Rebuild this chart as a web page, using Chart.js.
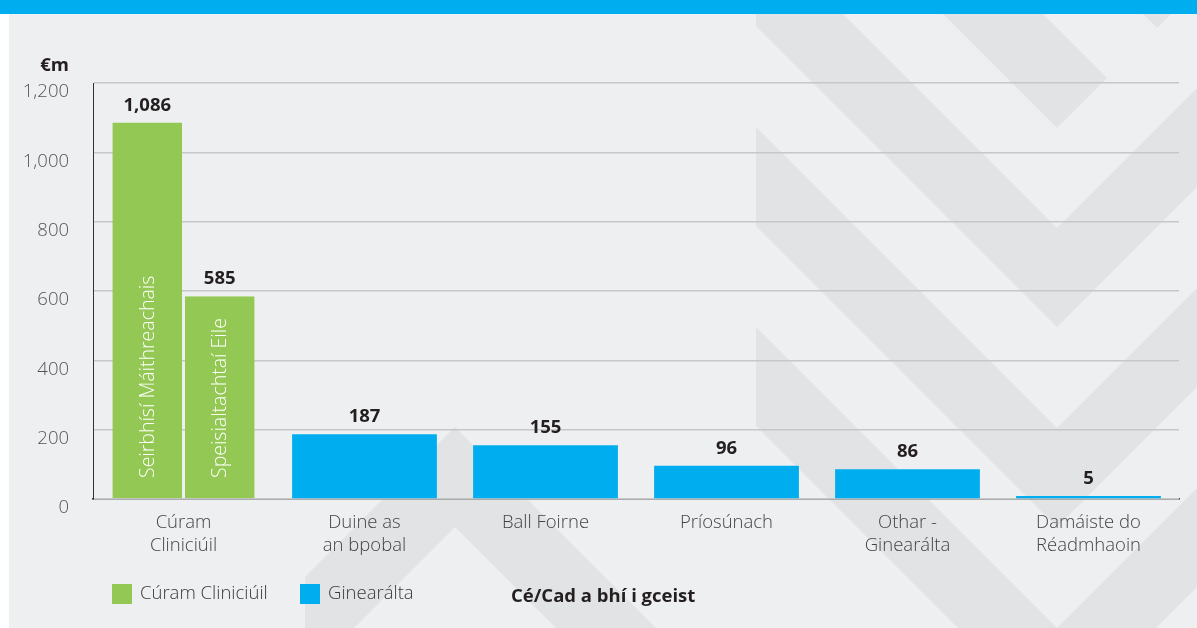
<!DOCTYPE html>
<html>
<head>
<meta charset="utf-8">
<script src="https://cdn.jsdelivr.net/npm/chart.js@4"></script>
<style>
  html, body { margin: 0; padding: 0; background: #ffffff; }
  #wrap { position: relative; width: 1197px; height: 628px; }
</style>
</head>
<body>
<div id="wrap"><canvas id="chart" width="1197" height="628"></canvas></div>
<script>
// categories (multi-line labels)
const categories = [
  ["Cúram", "Cliniciúil"],
  ["Duine as", "an bpobal"],
  ["Ball Foirne"],
  ["Príosúnach"],
  ["Othar -", "Ginearálta"],
  ["Damáiste do", "Réadmhaoin"]
];
// series values (€m)
const maternityValues = [1086, null, null, null, null, null];
const otherSpecialtyValues = [585, null, null, null, null, null];
const generalValues = [null, 187, 155, 96, 86, 5];
const innerLabels = ["Seirbhísí Máithreachais", "Speisialtachtaí Eile"];
const legendLabels = ["Cúram Cliniciúil", "Ginearálta"];
const yTicks = [0, 200, 400, 600, 800, 1000, 1200];
const axisTitle = "Cé/Cad a bhí i gceist";
const unitLabel = "€m";

const GREEN = "#92c853";
const BLUE = "#00aeef";
const FONT = "'Open Sans', sans-serif";
const SIZE = 18.5;

Chart.defaults.font.family = FONT;

// background panel + chevrons
const backgroundPlugin = {
  id: "background",
  beforeDraw(chart) {
    const ctx = chart.ctx;
    ctx.save();
    ctx.fillStyle = "#ffffff";
    ctx.fillRect(0, 0, 1197, 628);
    ctx.fillStyle = "#eeeff1";
    ctx.fillRect(9, 14, 1188, 614);

    ctx.beginPath();
    ctx.rect(9, 14, 1188, 614);
    ctx.clip();
    ctx.fillStyle = "#e2e3e5";

    const poly = (pts) => {
      ctx.beginPath();
      ctx.moveTo(pts[0][0], pts[0][1]);
      for (let i = 1; i < pts.length; i++) ctx.lineTo(pts[i][0], pts[i][1]);
      ctx.closePath();
      ctx.fill();
    };

    // right side chevrons (clipped at x = 756)
    ctx.save();
    ctx.beginPath();
    ctx.rect(756, 14, 441, 614);
    ctx.clip();
    [228, 428, 628].forEach((yi) => {
      const yo = yi + 99;
      poly([[756, yi - 301], [1057, yi], [1197, yi - 140], [1197, yo - 140], [1057, yo], [756, yo - 301]]);
    });
    poly([[943, 14], [1043, 14], [1107, 78], [1057, 128]]);
    poly([[1143, 14], [1171, 14], [1157, 28]]);
    ctx.restore();

    // middle lower chevron
    ctx.save();
    ctx.beginPath();
    ctx.rect(305, 14, 892, 614);
    ctx.clip();
    poly([[305, 577], [455, 427], [656, 628], [556, 628], [455, 527], [305, 677]]);
    ctx.restore();

    ctx.restore();
    ctx.fillStyle = BLUE;
    ctx.fillRect(0, 0, 1197, 14);
  }
};

// value labels, inner rotated labels, legend and axis title
const labelsPlugin = {
  id: "labels",
  afterDatasetsDraw(chart) {
    const ctx = chart.ctx;
    const area = chart.chartArea;
    ctx.save();
    chart.data.datasets.forEach((ds, di) => {
      const meta = chart.getDatasetMeta(di);
      meta.data.forEach((bar, i) => {
        const v = ds.data[i];
        if (v === null || v === undefined) return;
        ctx.fillStyle = "#231f20";
        ctx.font = "bold " + SIZE + "px " + FONT;
        ctx.textAlign = "center";
        ctx.textBaseline = "bottom";
        ctx.fillText(v.toLocaleString("en-US"), bar.x, bar.y - 8);
        if (ds.innerLabel) {
          ctx.save();
          ctx.translate(bar.x, area.bottom - 21);
          ctx.rotate(-Math.PI / 2);
          ctx.fillStyle = "#ffffff";
          ctx.font = "300 19.5px " + FONT;
          ctx.textAlign = "left";
          ctx.textBaseline = "middle";
          ctx.fillText(ds.innerLabel, 0, 1);
          ctx.restore();
        }
      });
    });

    // unit label
    ctx.fillStyle = "#231f20";
    ctx.font = "bold " + SIZE + "px " + FONT;
    ctx.textAlign = "right";
    ctx.textBaseline = "middle";
    ctx.fillText(unitLabel, 69, 66);

    // legend
    const legendColors = [GREEN, BLUE];
    const legendX = [112, 300];
    legendLabels.forEach((lbl, i) => {
      ctx.fillStyle = legendColors[i];
      ctx.fillRect(legendX[i], 584, 20, 20);
      ctx.fillStyle = "#3a3a3a";
      ctx.font = "300 " + SIZE + "px " + FONT;
      ctx.textAlign = "left";
      ctx.textBaseline = "middle";
      ctx.fillText(lbl, legendX[i] + 28, 594);
    });

    // axis title
    ctx.fillStyle = "#231f20";
    ctx.font = "bold " + SIZE + "px " + FONT;
    ctx.textAlign = "left";
    ctx.textBaseline = "middle";
    ctx.fillText(axisTitle, 511, 597);
    ctx.restore();
  }
};

const gapBorder = { left: 1.5, right: 1.5, top: 0, bottom: 0 };

new Chart(document.getElementById("chart").getContext("2d"), {
  type: "bar",
  data: {
    labels: categories,
    datasets: [
      {
        label: legendLabels[0],
        data: maternityValues,
        backgroundColor: GREEN,
        borderColor: "rgba(0,0,0,0)",
        borderWidth: gapBorder,
        borderSkipped: false,
        innerLabel: innerLabels[0],
        skipNull: true
      },
      {
        label: legendLabels[0],
        data: otherSpecialtyValues,
        backgroundColor: GREEN,
        borderColor: "rgba(0,0,0,0)",
        borderWidth: gapBorder,
        borderSkipped: false,
        innerLabel: innerLabels[1],
        skipNull: true
      },
      {
        label: legendLabels[1],
        data: generalValues,
        backgroundColor: BLUE,
        minBarLength: 3,
        skipNull: true
      }
    ]
  },
  options: {
    responsive: false,
    animation: false,
    layout: { padding: { top: 83, right: 18, bottom: 0, left: 0 } },
    datasets: {
      bar: { categoryPercentage: 0.8, barPercentage: 1 }
    },
    plugins: {
      legend: { display: false },
      tooltip: { enabled: false }
    },
    scales: {
      x: {
        afterFit(scale) { scale.height = 129; },
        grid: { display: false, drawTicks: false },
        border: { color: "#333333", width: 1.5, z: -1 },
        ticks: {
          color: "#444444",
          font: { size: SIZE, weight: 300, lineHeight: 1.2 },
          padding: 13,
          maxRotation: 0,
          autoSkip: false
        }
      },
      y: {
        min: yTicks[0],
        max: yTicks[yTicks.length - 1],
        afterFit(scale) { scale.width = 93; },
        afterBuildTicks(scale) { scale.ticks = yTicks.map((v) => ({ value: v })); },
        grid: { color: "#c6c7c9", lineWidth: 1.5, drawTicks: false },
        border: { color: "#333333", width: 1 },
        ticks: {
          color: "#555555",
          font: { size: SIZE, weight: 300 },
          padding: 24,
          labelOffset: 9,
          callback: (v) => v.toLocaleString("en-US")
        }
      }
    }
  },
  plugins: [backgroundPlugin, labelsPlugin]
});
</script>
</body>
</html>
